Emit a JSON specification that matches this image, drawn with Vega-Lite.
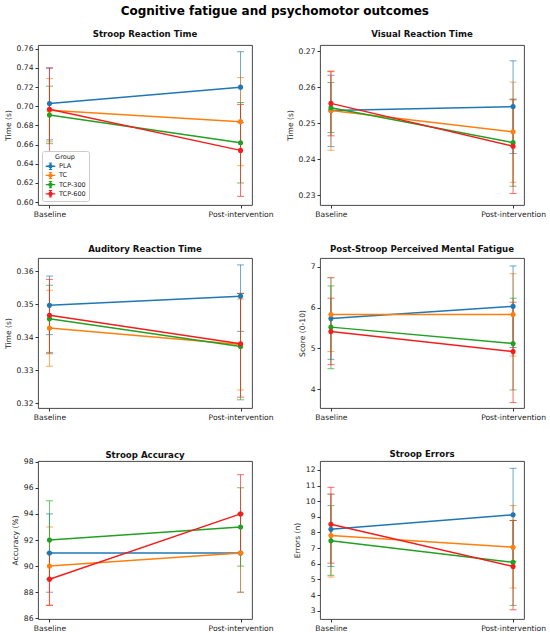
{
  "$schema": "https://vega.github.io/schema/vega-lite/v6.json",
  "padding": {"left": 3, "top": 4, "right": 2, "bottom": 1},
  "background": "white",
  "title": {"text": "Cognitive fatigue and psychomotor outcomes", "fontSize": 12, "fontWeight": "bold", "font": "DejaVu Sans", "color": "#000", "anchor": "middle", "offset": 12, "frame": "bounds"},
  "config": {
    "font": "DejaVu Sans",
    "view": {"stroke": "#333", "strokeWidth": 0.9},
    "axis": {"labelFont": "DejaVu Sans", "titleFont": "DejaVu Sans", "labelFontSize": 7.6, "titleFontSize": 7.6, "titleFontWeight": "normal", "labelColor": "#222", "titleColor": "#222", "tickColor": "#333", "tickSize": 3, "domain": false, "grid": false, "labelPadding": 2, "titlePadding": 4},
    "title": {"fontSize": 8.6, "fontWeight": "bold", "font": "DejaVu Sans", "offset": 6, "color": "#111", "frame": "group"}
  },
  "datasets": {
    "d": [
      {"p": "SRT", "g": "PLA", "t": "Baseline", "m": 0.703, "lo": 0.665, "hi": 0.740},
      {"p": "SRT", "g": "PLA", "t": "Post-intervention", "m": 0.720, "lo": 0.683, "hi": 0.757},
      {"p": "SRT", "g": "TC", "t": "Baseline", "m": 0.696, "lo": 0.663, "hi": 0.729},
      {"p": "SRT", "g": "TC", "t": "Post-intervention", "m": 0.684, "lo": 0.638, "hi": 0.730},
      {"p": "SRT", "g": "TCP-300", "t": "Baseline", "m": 0.691, "lo": 0.661, "hi": 0.721},
      {"p": "SRT", "g": "TCP-300", "t": "Post-intervention", "m": 0.662, "lo": 0.620, "hi": 0.704},
      {"p": "SRT", "g": "TCP-600", "t": "Baseline", "m": 0.697, "lo": 0.652, "hi": 0.740},
      {"p": "SRT", "g": "TCP-600", "t": "Post-intervention", "m": 0.654, "lo": 0.606, "hi": 0.702},

      {"p": "VRT", "g": "PLA", "t": "Baseline", "m": 0.2535, "lo": 0.2435, "hi": 0.2633},
      {"p": "VRT", "g": "PLA", "t": "Post-intervention", "m": 0.2546, "lo": 0.2416, "hi": 0.2673},
      {"p": "VRT", "g": "TC", "t": "Baseline", "m": 0.2535, "lo": 0.2425, "hi": 0.2645},
      {"p": "VRT", "g": "TC", "t": "Post-intervention", "m": 0.2476, "lo": 0.2336, "hi": 0.2614},
      {"p": "VRT", "g": "TCP-300", "t": "Baseline", "m": 0.2543, "lo": 0.2474, "hi": 0.2613},
      {"p": "VRT", "g": "TCP-300", "t": "Post-intervention", "m": 0.2446, "lo": 0.2325, "hi": 0.2567},
      {"p": "VRT", "g": "TCP-600", "t": "Baseline", "m": 0.2555, "lo": 0.2465, "hi": 0.2643},
      {"p": "VRT", "g": "TCP-600", "t": "Post-intervention", "m": 0.2436, "lo": 0.2305, "hi": 0.2565},

      {"p": "ART", "g": "PLA", "t": "Baseline", "m": 0.3497, "lo": 0.3408, "hi": 0.3586},
      {"p": "ART", "g": "PLA", "t": "Post-intervention", "m": 0.3525, "lo": 0.3418, "hi": 0.3620},
      {"p": "ART", "g": "TC", "t": "Baseline", "m": 0.3428, "lo": 0.3312, "hi": 0.3543},
      {"p": "ART", "g": "TC", "t": "Post-intervention", "m": 0.3378, "lo": 0.3240, "hi": 0.3516},
      {"p": "ART", "g": "TCP-300", "t": "Baseline", "m": 0.3456, "lo": 0.3354, "hi": 0.3558},
      {"p": "ART", "g": "TCP-300", "t": "Post-intervention", "m": 0.3372, "lo": 0.3210, "hi": 0.3534},
      {"p": "ART", "g": "TCP-600", "t": "Baseline", "m": 0.3467, "lo": 0.3350, "hi": 0.3576},
      {"p": "ART", "g": "TCP-600", "t": "Post-intervention", "m": 0.3380, "lo": 0.3218, "hi": 0.3533},

      {"p": "MF", "g": "PLA", "t": "Baseline", "m": 5.73, "lo": 4.73, "hi": 6.73},
      {"p": "MF", "g": "PLA", "t": "Post-intervention", "m": 6.03, "lo": 5.02, "hi": 7.02},
      {"p": "MF", "g": "TC", "t": "Baseline", "m": 5.83, "lo": 4.92, "hi": 6.74},
      {"p": "MF", "g": "TC", "t": "Post-intervention", "m": 5.83, "lo": 4.81, "hi": 6.83},
      {"p": "MF", "g": "TCP-300", "t": "Baseline", "m": 5.52, "lo": 4.50, "hi": 6.53},
      {"p": "MF", "g": "TCP-300", "t": "Post-intervention", "m": 5.12, "lo": 3.98, "hi": 6.23},
      {"p": "MF", "g": "TCP-600", "t": "Baseline", "m": 5.41, "lo": 4.60, "hi": 6.23},
      {"p": "MF", "g": "TCP-600", "t": "Post-intervention", "m": 4.92, "lo": 3.67, "hi": 6.13},

      {"p": "SA", "g": "PLA", "t": "Baseline", "m": 91, "lo": 88, "hi": 94},
      {"p": "SA", "g": "PLA", "t": "Post-intervention", "m": 91, "lo": 88, "hi": 94},
      {"p": "SA", "g": "TC", "t": "Baseline", "m": 90, "lo": 87, "hi": 93},
      {"p": "SA", "g": "TC", "t": "Post-intervention", "m": 91, "lo": 88, "hi": 94},
      {"p": "SA", "g": "TCP-300", "t": "Baseline", "m": 92, "lo": 89, "hi": 95},
      {"p": "SA", "g": "TCP-300", "t": "Post-intervention", "m": 93, "lo": 90, "hi": 96},
      {"p": "SA", "g": "TCP-600", "t": "Baseline", "m": 89, "lo": 87, "hi": 91},
      {"p": "SA", "g": "TCP-600", "t": "Post-intervention", "m": 94, "lo": 91, "hi": 97},

      {"p": "SE", "g": "PLA", "t": "Baseline", "m": 8.21, "lo": 5.83, "hi": 10.45},
      {"p": "SE", "g": "PLA", "t": "Post-intervention", "m": 9.13, "lo": 6.16, "hi": 12.1},
      {"p": "SE", "g": "TC", "t": "Baseline", "m": 7.81, "lo": 5.15, "hi": 10.45},
      {"p": "SE", "g": "TC", "t": "Post-intervention", "m": 7.06, "lo": 4.45, "hi": 9.72},
      {"p": "SE", "g": "TCP-300", "t": "Baseline", "m": 7.47, "lo": 5.26, "hi": 9.72},
      {"p": "SE", "g": "TCP-300", "t": "Post-intervention", "m": 6.09, "lo": 3.34, "hi": 8.77},
      {"p": "SE", "g": "TCP-600", "t": "Baseline", "m": 8.53, "lo": 6.04, "hi": 10.89},
      {"p": "SE", "g": "TCP-600", "t": "Post-intervention", "m": 5.83, "lo": 3.06, "hi": 8.77}
    ]
  },
  "data": {"name": "d"},
  "columns": 2,
  "bounds": "flush",
  "spacing": {"row": 53, "column": 68},
  "resolve": {"scale": {"color": "independent"}, "legend": {"color": "independent"}},
  "concat": [
    {
      "width": 214, "height": 160,
      "title": {"text": "Stroop Reaction Time", "offset": 6},
      "transform": [{"filter": "datum.p == 'SRT'"}],
      "encoding": {
        "x": {"field": "t", "type": "nominal", "sort": ["Baseline", "Post-intervention"], "scale": {"type": "point", "padding": 0.06}, "axis": {"title": null, "labelAngle": 0}},
        "color": {"field": "g", "type": "nominal", "scale": {"domain": ["PLA", "TC", "TCP-300", "TCP-600"], "range": ["#1f77b4", "#ff7f0e", "#22a022", "#f21d1d"]},
          "legend": {"title": "Group", "orient": "bottom-left", "offset": 4, "fillColor": "white", "strokeColor": "#cccccc", "padding": 3, "cornerRadius": 2, "labelFontSize": 6.5, "titleFontSize": 6.5, "titleFontWeight": "normal", "titleAnchor": "middle", "symbolType": "M-1,0H1M0,-0.7V0.7M-0.35,-0.7H0.35M-0.35,0.7H0.35M0.33,0A0.33,0.33,0,1,1,-0.33,0A0.33,0.33,0,1,1,0.33,0Z", "symbolSize": 90, "symbolStrokeWidth": 1.3, "symbolOpacity": 1, "clipHeight": 7.5, "rowPadding": 1.2, "titlePadding": 2, "labelOffset": 3, "labelColor": "#222", "titleColor": "#222"}}
      },
      "layer": [
        {"mark": {"type": "errorbar", "ticks": true, "size": 7, "opacity": 0.65, "thickness": 1},
         "encoding": {"y": {"field": "lo", "type": "quantitative", "scale": {"domain": [0.597, 0.764], "nice": false, "zero": false}, "axis": {"title": "Time (s)", "values": [0.60, 0.62, 0.64, 0.66, 0.68, 0.70, 0.72, 0.74, 0.76], "format": ".2f"}}, "y2": {"field": "hi"}}},
        {"mark": {"type": "line", "strokeWidth": 1.5},
         "encoding": {"y": {"field": "m", "type": "quantitative", "scale": {"domain": [0.597, 0.764], "nice": false, "zero": false}, "axis": {"title": "Time (s)", "values": [0.60, 0.62, 0.64, 0.66, 0.68, 0.70, 0.72, 0.74, 0.76], "format": ".2f"}}}},
        {"mark": {"type": "point", "filled": true, "size": 26, "opacity": 1},
         "encoding": {"y": {"field": "m", "type": "quantitative", "scale": {"domain": [0.597, 0.764], "nice": false, "zero": false}, "axis": {"title": "Time (s)", "values": [0.60, 0.62, 0.64, 0.66, 0.68, 0.70, 0.72, 0.74, 0.76], "format": ".2f"}}}}
      ]
    },
    {
      "width": 204, "height": 160,
      "title": {"text": "Visual Reaction Time", "offset": 6},
      "transform": [{"filter": "datum.p == 'VRT'"}],
      "encoding": {
        "x": {"field": "t", "type": "nominal", "sort": ["Baseline", "Post-intervention"], "scale": {"type": "point", "padding": 0.06}, "axis": {"title": null, "labelAngle": 0}},
        "color": {"field": "g", "type": "nominal", "scale": {"domain": ["PLA", "TC", "TCP-300", "TCP-600"], "range": ["#1f77b4", "#ff7f0e", "#22a022", "#f21d1d"]}, "legend": null}
      },
      "layer": [
        {"mark": {"type": "errorbar", "ticks": true, "size": 7, "opacity": 0.65, "thickness": 1},
         "encoding": {"y": {"field": "lo", "type": "quantitative", "scale": {"domain": [0.2273, 0.2717], "nice": false, "zero": false}, "axis": {"title": "Time (s)", "values": [0.23, 0.24, 0.25, 0.26, 0.27], "format": ".2f"}}, "y2": {"field": "hi"}}},
        {"mark": {"type": "line", "strokeWidth": 1.5},
         "encoding": {"y": {"field": "m", "type": "quantitative", "scale": {"domain": [0.2273, 0.2717], "nice": false, "zero": false}, "axis": {"title": "Time (s)", "values": [0.23, 0.24, 0.25, 0.26, 0.27], "format": ".2f"}}}},
        {"mark": {"type": "point", "filled": true, "size": 26, "opacity": 1},
         "encoding": {"y": {"field": "m", "type": "quantitative", "scale": {"domain": [0.2273, 0.2717], "nice": false, "zero": false}, "axis": {"title": "Time (s)", "values": [0.23, 0.24, 0.25, 0.26, 0.27], "format": ".2f"}}}}
      ]
    },
    {
      "width": 214, "height": 150,
      "title": {"text": "Auditory Reaction Time", "offset": 4},
      "transform": [{"filter": "datum.p == 'ART'"}],
      "encoding": {
        "x": {"field": "t", "type": "nominal", "sort": ["Baseline", "Post-intervention"], "scale": {"type": "point", "padding": 0.06}, "axis": {"title": null, "labelAngle": 0}},
        "color": {"field": "g", "type": "nominal", "scale": {"domain": ["PLA", "TC", "TCP-300", "TCP-600"], "range": ["#1f77b4", "#ff7f0e", "#22a022", "#f21d1d"]}, "legend": null}
      },
      "layer": [
        {"mark": {"type": "errorbar", "ticks": true, "size": 7, "opacity": 0.65, "thickness": 1},
         "encoding": {"y": {"field": "lo", "type": "quantitative", "scale": {"domain": [0.3185, 0.3641], "nice": false, "zero": false}, "axis": {"title": "Time (s)", "values": [0.32, 0.33, 0.34, 0.35, 0.36], "format": ".2f"}}, "y2": {"field": "hi"}}},
        {"mark": {"type": "line", "strokeWidth": 1.5},
         "encoding": {"y": {"field": "m", "type": "quantitative", "scale": {"domain": [0.3185, 0.3641], "nice": false, "zero": false}, "axis": {"title": "Time (s)", "values": [0.32, 0.33, 0.34, 0.35, 0.36], "format": ".2f"}}}},
        {"mark": {"type": "point", "filled": true, "size": 26, "opacity": 1},
         "encoding": {"y": {"field": "m", "type": "quantitative", "scale": {"domain": [0.3185, 0.3641], "nice": false, "zero": false}, "axis": {"title": "Time (s)", "values": [0.32, 0.33, 0.34, 0.35, 0.36], "format": ".2f"}}}}
      ]
    },
    {
      "width": 204, "height": 150,
      "title": {"text": "Post-Stroop Perceived Mental Fatigue", "offset": 4},
      "transform": [{"filter": "datum.p == 'MF'"}],
      "encoding": {
        "x": {"field": "t", "type": "nominal", "sort": ["Baseline", "Post-intervention"], "scale": {"type": "point", "padding": 0.06}, "axis": {"title": null, "labelAngle": 0}},
        "color": {"field": "g", "type": "nominal", "scale": {"domain": ["PLA", "TC", "TCP-300", "TCP-600"], "range": ["#1f77b4", "#ff7f0e", "#22a022", "#f21d1d"]}, "legend": null}
      },
      "layer": [
        {"mark": {"type": "errorbar", "ticks": true, "size": 7, "opacity": 0.65, "thickness": 1},
         "encoding": {"y": {"field": "lo", "type": "quantitative", "scale": {"domain": [3.537, 7.215], "nice": false, "zero": false}, "axis": {"title": "Score (0-10)", "values": [4, 5, 6, 7], "format": "d"}}, "y2": {"field": "hi"}}},
        {"mark": {"type": "line", "strokeWidth": 1.5},
         "encoding": {"y": {"field": "m", "type": "quantitative", "scale": {"domain": [3.537, 7.215], "nice": false, "zero": false}, "axis": {"title": "Score (0-10)", "values": [4, 5, 6, 7], "format": "d"}}}},
        {"mark": {"type": "point", "filled": true, "size": 26, "opacity": 1},
         "encoding": {"y": {"field": "m", "type": "quantitative", "scale": {"domain": [3.537, 7.215], "nice": false, "zero": false}, "axis": {"title": "Score (0-10)", "values": [4, 5, 6, 7], "format": "d"}}}}
      ]
    },
    {
      "width": 214, "height": 158,
      "title": {"text": "Stroop Accuracy", "offset": -2},
      "transform": [{"filter": "datum.p == 'SA'"}],
      "encoding": {
        "x": {"field": "t", "type": "nominal", "sort": ["Baseline", "Post-intervention"], "scale": {"type": "point", "padding": 0.06}, "axis": {"title": null, "labelAngle": 0}},
        "color": {"field": "g", "type": "nominal", "scale": {"domain": ["PLA", "TC", "TCP-300", "TCP-600"], "range": ["#1f77b4", "#ff7f0e", "#22a022", "#f21d1d"]}, "legend": null}
      },
      "layer": [
        {"mark": {"type": "errorbar", "ticks": true, "size": 7, "opacity": 0.65, "thickness": 1},
         "encoding": {"y": {"field": "lo", "type": "quantitative", "scale": {"domain": [85.95, 98.05], "nice": false, "zero": false}, "axis": {"title": "Accuracy (%)", "values": [86, 88, 90, 92, 94, 96, 98], "format": "d"}}, "y2": {"field": "hi"}}},
        {"mark": {"type": "line", "strokeWidth": 1.5},
         "encoding": {"y": {"field": "m", "type": "quantitative", "scale": {"domain": [85.95, 98.05], "nice": false, "zero": false}, "axis": {"title": "Accuracy (%)", "values": [86, 88, 90, 92, 94, 96, 98], "format": "d"}}}},
        {"mark": {"type": "point", "filled": true, "size": 26, "opacity": 1},
         "encoding": {"y": {"field": "m", "type": "quantitative", "scale": {"domain": [85.95, 98.05], "nice": false, "zero": false}, "axis": {"title": "Accuracy (%)", "values": [86, 88, 90, 92, 94, 96, 98], "format": "d"}}}}
      ]
    },
    {
      "width": 204, "height": 158,
      "title": {"text": "Stroop Errors", "offset": 2},
      "transform": [{"filter": "datum.p == 'SE'"}],
      "encoding": {
        "x": {"field": "t", "type": "nominal", "sort": ["Baseline", "Post-intervention"], "scale": {"type": "point", "padding": 0.06}, "axis": {"title": null, "labelAngle": 0}},
        "color": {"field": "g", "type": "nominal", "scale": {"domain": ["PLA", "TC", "TCP-300", "TCP-600"], "range": ["#1f77b4", "#ff7f0e", "#22a022", "#f21d1d"]}, "legend": null}
      },
      "layer": [
        {"mark": {"type": "errorbar", "ticks": true, "size": 7, "opacity": 0.65, "thickness": 1},
         "encoding": {"y": {"field": "lo", "type": "quantitative", "scale": {"domain": [2.47, 12.57], "nice": false, "zero": false}, "axis": {"title": "Errors (n)", "values": [3, 4, 5, 6, 7, 8, 9, 10, 11, 12], "format": "d"}}, "y2": {"field": "hi"}}},
        {"mark": {"type": "line", "strokeWidth": 1.5},
         "encoding": {"y": {"field": "m", "type": "quantitative", "scale": {"domain": [2.47, 12.57], "nice": false, "zero": false}, "axis": {"title": "Errors (n)", "values": [3, 4, 5, 6, 7, 8, 9, 10, 11, 12], "format": "d"}}}},
        {"mark": {"type": "point", "filled": true, "size": 26, "opacity": 1},
         "encoding": {"y": {"field": "m", "type": "quantitative", "scale": {"domain": [2.47, 12.57], "nice": false, "zero": false}, "axis": {"title": "Errors (n)", "values": [3, 4, 5, 6, 7, 8, 9, 10, 11, 12], "format": "d"}}}}
      ]
    }
  ]
}
